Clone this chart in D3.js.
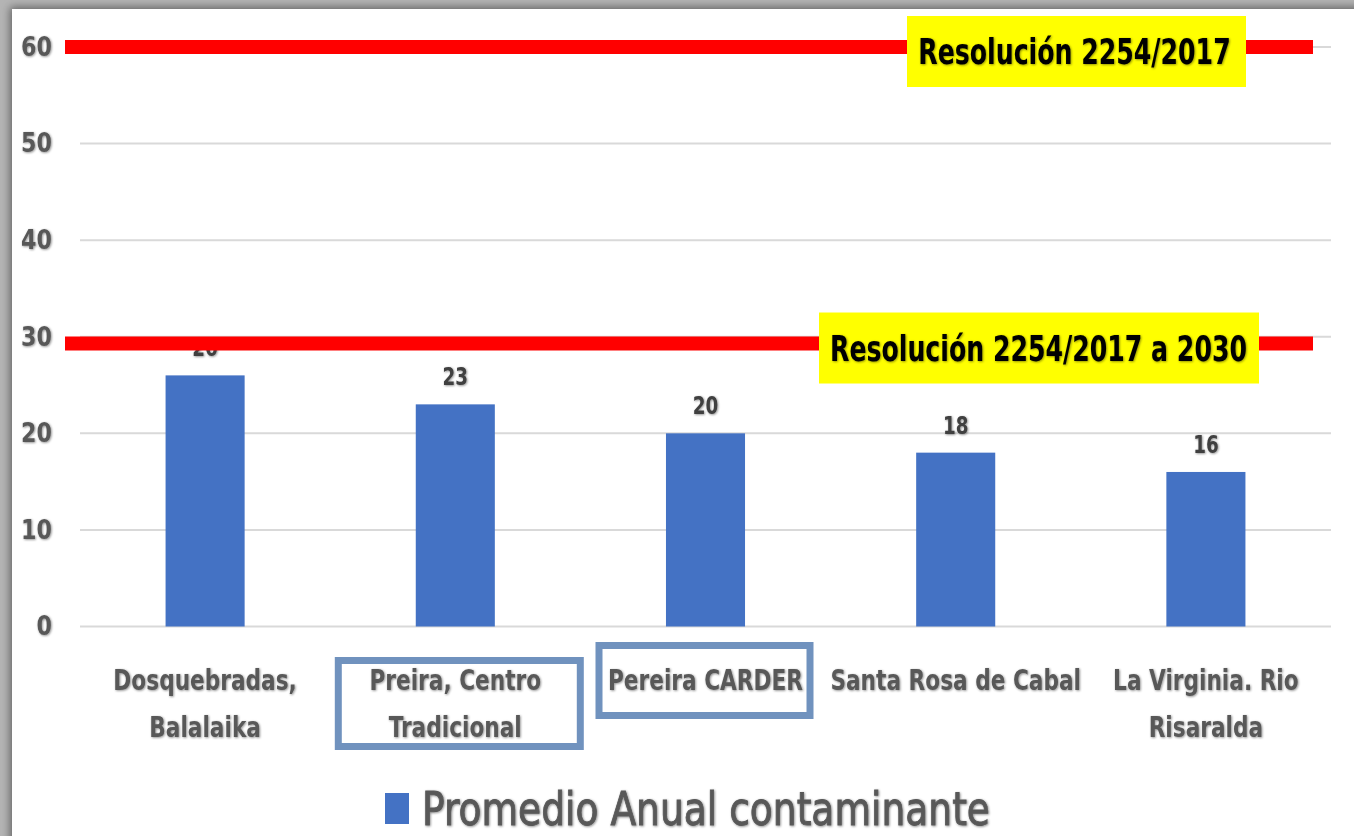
<!DOCTYPE html>
<html>
<head>
<meta charset="utf-8">
<title>Promedio Anual contaminante</title>
<script src="https://d3js.org/d3.v7.min.js"></script>
<style>
  body { margin: 0; background: #a9a9a9; }
  svg { display: block; }
</style>
</head>
<body>
<div id="chart"></div>
<script>
// data
const categories = ["Dosquebradas,\nBalalaika", "Preira, Centro\nTradicional", "Pereira CARDER", "Santa Rosa de Cabal", "La Virginia. Rio\nRisaralda"];
const values = [26, 23, 20, 18, 16];
const yTicks = [0, 10, 20, 30, 40, 50, 60];
const limitValues = [60, 29.3];
const limitLabels = ["Resolución 2254/2017", "Resolución 2254/2017 a 2030"];
const highlighted = ["Preira, Centro\nTradicional", "Pereira CARDER"];
const seriesName = "Promedio Anual contaminante";

const W = 1354, H = 836;
const font = "'Liberation Sans Narrow', 'DejaVu Sans Condensed', 'Open Sans', sans-serif";
const grey = "#595959";

// squeeze text horizontally (the original uses a narrow Calibri-like face)
function squeeze(sel, k) {
  sel.each(function() {
    const len = this.getComputedTextLength();
    d3.select(this).attr("textLength", len * k).attr("lengthAdjust", "spacingAndGlyphs");
  });
}

const svg = d3.select("#chart").append("svg")
    .attr("width", W)
    .attr("height", H);

const defs = svg.append("defs");
const panelShadow = defs.append("filter").attr("id", "panelShadow")
    .attr("x", "-5%").attr("y", "-5%").attr("width", "110%").attr("height", "110%");
panelShadow.append("feDropShadow").attr("dx", -2).attr("dy", -2)
    .attr("stdDeviation", 4).attr("flood-color", "#000").attr("flood-opacity", 0.45);
const textShadow = defs.append("filter").attr("id", "textShadow")
    .attr("x", "-10%").attr("y", "-20%").attr("width", "120%").attr("height", "140%");
textShadow.append("feDropShadow").attr("dx", 0.8).attr("dy", 0.8)
    .attr("stdDeviation", 1.2).attr("flood-color", "#000").attr("flood-opacity", 0.45);

// grey frame + white panel
svg.append("rect").attr("width", W).attr("height", H).attr("fill", "#b4b4b4");
svg.append("rect")
    .attr("x", 12).attr("y", 9)
    .attr("width", W - 12 + 20).attr("height", H - 9 + 20)
    .attr("fill", "#fff")
    .attr("filter", "url(#panelShadow)");

const x = d3.scaleBand()
    .domain(categories)
    .range([80, 1331])
    .paddingInner(0.684)
    .paddingOuter(0.342);

const y = d3.scaleLinear()
    .domain([0, 60])
    .range([626.5, 47]);

// gridlines
svg.append("g")
  .selectAll("line")
  .data(yTicks)
  .join("line")
    .attr("x1", 80).attr("x2", 1331)
    .attr("y1", d => y(d)).attr("y2", d => y(d))
    .attr("stroke", "#d9d9d9")
    .attr("stroke-width", 2);

// y axis labels
const yAxis = svg.append("g")
    .attr("transform", "translate(52,0)")
    .call(d3.axisLeft(y).tickValues(yTicks).tickSize(0).tickPadding(0));
yAxis.select(".domain").remove();
yAxis.selectAll("text")
    .attr("font-family", font)
    .attr("font-weight", "bold")
    .attr("font-size", 26)
    .attr("fill", grey)
    .attr("filter", "url(#textShadow)")
    .call(squeeze, 0.95);

// bars
svg.append("g")
  .selectAll("rect")
  .data(values)
  .join("rect")
    .attr("x", (d, i) => x(categories[i]))
    .attr("y", d => y(d))
    .attr("width", x.bandwidth())
    .attr("height", d => y(0) - y(d))
    .attr("fill", "#4472c4");

// value labels
svg.append("g")
  .selectAll("text")
  .data(values)
  .join("text")
    .attr("x", (d, i) => x(categories[i]) + x.bandwidth() / 2)
    .attr("y", d => y(d) - 19)
    .attr("text-anchor", "middle")
    .attr("font-family", font)
    .attr("font-weight", "bold")
    .attr("font-size", 24)
    .attr("fill", "#404040")
    .attr("filter", "url(#textShadow)")
    .text(d => d)
    .call(squeeze, 0.85);

// category labels
const cat = svg.append("g")
  .selectAll("text")
  .data(categories)
  .join("text")
    .attr("x", d => x(d) + x.bandwidth() / 2)
    .attr("y", 690)
    .attr("text-anchor", "middle")
    .attr("font-family", font)
    .attr("font-weight", "bold")
    .attr("font-size", 28)
    .attr("fill", grey)
    .attr("filter", "url(#textShadow)");
cat.selectAll("tspan")
  .data(d => d.split("\n"))
  .join("tspan")
    .attr("x", function() { return d3.select(this.parentNode).attr("x"); })
    .attr("dy", (d, i) => i ? 47 : 0)
    .text(d => d)
    .call(squeeze, 0.86);

// blue boxes around the highlighted stations
svg.append("g")
  .selectAll("rect")
  .data(highlighted)
  .join("rect")
    .each(function(d) {
      const lines = d.split("\n").length;
      const w = lines > 1 ? 242 : 211;
      const cx = x(d) + x.bandwidth() / 2;
      d3.select(this)
        .attr("x", cx - w / 2 + (lines > 1 ? 4 : -1))
        .attr("y", lines > 1 ? 660.5 : 645.5)
        .attr("width", w)
        .attr("height", lines > 1 ? 86 : 70);
    })
    .attr("fill", "none")
    .attr("stroke", "#7092be")
    .attr("stroke-width", 7);

// red limit lines
svg.append("g")
  .selectAll("line")
  .data(limitValues)
  .join("line")
    .attr("x1", 65).attr("x2", 1313)
    .attr("y1", d => y(d)).attr("y2", d => y(d))
    .attr("stroke", "#ff0000")
    .attr("stroke-width", 14);

// yellow labels on the limits
const lim = svg.append("g")
  .selectAll("g")
  .data(limitValues)
  .join("g");
lim.append("rect")
    .attr("x", (d, i) => i ? 819 : 907)
    .attr("y", d => y(d) - 31)
    .attr("width", (d, i) => i ? 440 : 339)
    .attr("height", 71)
    .attr("fill", "#ffff00");
lim.append("text")
    .attr("x", (d, i) => i ? 1038.5 : 1074.5)
    .attr("y", d => y(d) + 17)
    .attr("text-anchor", "middle")
    .attr("font-family", font)
    .attr("font-weight", "bold")
    .attr("font-size", 35)
    .attr("fill", "#000")
    .attr("filter", "url(#textShadow)")
    .text((d, i) => limitLabels[i])
    .call(squeeze, 0.8);

// legend
const legend = svg.append("g").attr("transform", "translate(385,793)");
legend.append("rect")
    .attr("width", 24).attr("height", 31)
    .attr("fill", "#4472c4");
legend.append("text")
    .attr("x", 37).attr("y", 32)
    .attr("font-family", font)
    .attr("font-size", 46)
    .attr("fill", grey)
    .attr("stroke", grey)
    .attr("stroke-width", 0.9)
    .attr("filter", "url(#textShadow)")
    .text(seriesName)
    .attr("textLength", 568)
    .attr("lengthAdjust", "spacingAndGlyphs");
</script>
</body>
</html>
